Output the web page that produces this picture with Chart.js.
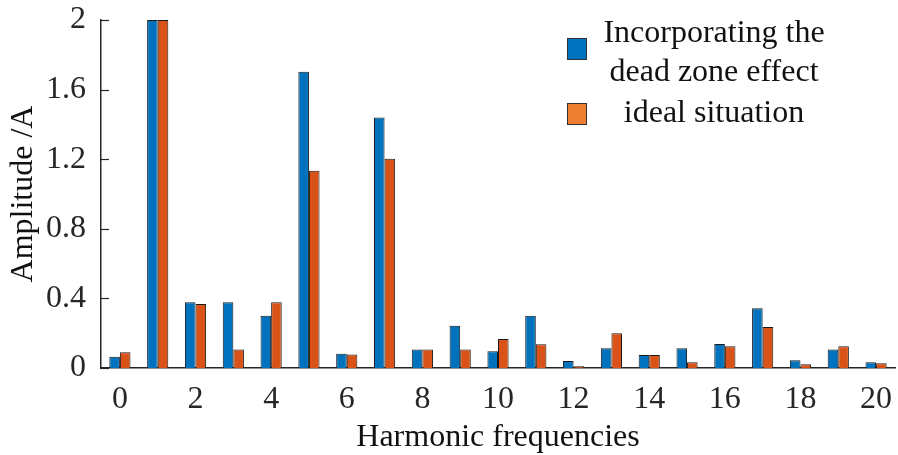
<!DOCTYPE html>
<html>
<head>
<meta charset="utf-8">
<script src="https://cdn.jsdelivr.net/npm/chart.js@4/dist/chart.umd.min.js"></script>
<style>
  html, body { margin: 0; padding: 0; background: #fff; }
  #wrap { width: 898px; height: 455px; }
</style>
</head>
<body>
<div id="wrap"><canvas id="harmonicChart" width="898" height="455"></canvas></div>
<script>
// Harmonic order 0..20
const harmonics = ['0','1','2','3','4','5','6','7','8','9','10','11','12','13','14','15','16','17','18','19','20'];
const deadZone = [0.065, 2, 0.378, 0.378, 0.30, 1.703, 0.082, 1.439, 0.107, 0.243, 0.096, 0.30, 0.04, 0.113, 0.075, 0.113, 0.138, 0.343, 0.044, 0.107, 0.033];
const ideal    = [0.09, 2, 0.368, 0.107, 0.378, 1.134, 0.077, 1.203, 0.107, 0.107, 0.167, 0.136, 0.01, 0.20, 0.075, 0.033, 0.125, 0.236, 0.021, 0.125, 0.027];
const yTicks = [0, 0.4, 0.8, 1.2, 1.6, 2];
const seriesNames = [['Incorporating the', 'dead zone effect'], ['ideal situation']];

const FONT = '"Liberation Serif", "Times New Roman", serif';
const FSIZE = 32;
const axisColor = '#262626';

// inward tick marks on the y axis plus the side legend
const extras = {
    id: 'extras',
    afterDraw(chart) {
        const ctx = chart.ctx;
        const y = chart.scales.y;
        const left = chart.chartArea.left;
        ctx.save();
        ctx.strokeStyle = axisColor;
        ctx.lineWidth = 1.2;
        yTicks.forEach(v => {
            const py = Math.round(y.getPixelForValue(v)) + 0.5;
            ctx.beginPath();
            ctx.moveTo(left, py);
            ctx.lineTo(left + 8, py);
            ctx.stroke();
        });

        // legend
        const legendColors = ['#0072BD', '#ED7D31'];
        const boxX = 567, textX = 714;
        const rows = [[38, [34, 73]], [103, [114]]];
        ctx.font = FSIZE + 'px ' + FONT;
        ctx.textAlign = 'center';
        ctx.textBaseline = 'middle';
        rows.forEach((r, i) => {
            ctx.fillStyle = legendColors[i];
            ctx.fillRect(boxX, r[0], 19, 21);
            ctx.strokeStyle = '#333';
            ctx.lineWidth = 1;
            ctx.strokeRect(boxX + 0.5, r[0] + 0.5, 19, 21);
            ctx.fillStyle = '#111';
            seriesNames[i].forEach((line, j) => ctx.fillText(line, textX, r[1][j]));
        });
        ctx.restore();
    }
};

new Chart(document.getElementById('harmonicChart'), {
    type: 'bar',
    data: {
        labels: harmonics,
        datasets: [{
            label: seriesNames[0].join(' '),
            data: deadZone,
            backgroundColor: '#0072BD',
            borderColor: '#1a1a1a',
            borderWidth: 1,
            categoryPercentage: 0.56,
            barPercentage: 1.0
        }, {
            label: seriesNames[1].join(' '),
            data: ideal,
            backgroundColor: '#D95319',
            borderColor: '#1a1a1a',
            borderWidth: 1,
            categoryPercentage: 0.56,
            barPercentage: 1.0
        }]
    },
    options: {
        responsive: false,
        animation: false,
        layout: { padding: { top: 20, right: 3, left: 4, bottom: 0 } },
        plugins: {
            legend: { display: false },
            tooltip: { enabled: false }
        },
        scales: {
            x: {
                offset: true,
                grid: { display: false, drawTicks: false },
                border: { display: true, color: axisColor, width: 1.5 },
                ticks: {
                    color: '#262626',
                    font: { family: FONT, size: FSIZE },
                    padding: 12,
                    maxRotation: 0,
                    autoSkip: false,
                    callback: (val, i) => (i % 2 === 0 ? harmonics[i] : '')
                },
                title: {
                    display: true,
                    text: 'Harmonic frequencies',
                    color: '#111',
                    font: { family: FONT, size: FSIZE },
                    padding: { top: 0, bottom: -2 }
                },
                afterFit: s => { s.height = 87; s.paddingLeft = 0; s.paddingRight = 0; }
            },
            y: {
                min: 0,
                max: 2,
                grid: { display: false, drawTicks: false },
                border: { display: true, color: axisColor, width: 1.5 },
                afterBuildTicks: s => { s.ticks = yTicks.map(v => ({ value: v })); },
                ticks: {
                    color: '#262626',
                    font: { family: FONT, size: FSIZE },
                    padding: 15,
                    callback: v => String(v)
                },
                title: {
                    display: true,
                    text: 'Amplitude /A',
                    color: '#111',
                    font: { family: FONT, size: FSIZE },
                    padding: { top: 0, bottom: 0 }
                },
                afterFit: s => { s.width = 97; s.paddingTop = 0; s.paddingBottom = 0; }
            }
        }
    },
    plugins: [extras]
});
</script>
</body>
</html>
